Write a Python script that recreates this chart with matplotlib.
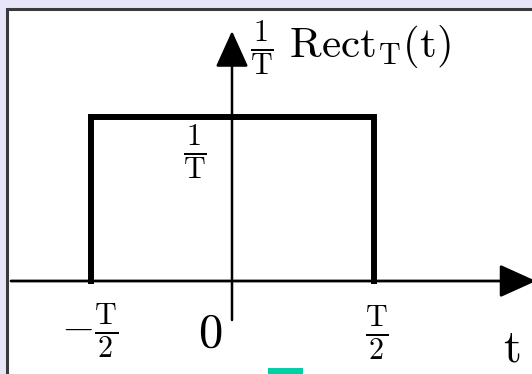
import matplotlib
matplotlib.use("Agg")
import matplotlib.pyplot as plt
from matplotlib.patches import Rectangle

plt.rcParams['mathtext.fontset'] = 'cm'
plt.rcParams['font.family'] = ['DejaVu Serif']

# ---- data ----
T = 2.0
height = 1.0 / T
rect_t = [-T / 2, -T / 2, T / 2, T / 2]
rect_v = [0.0, height, height, 0.0]
tick_pos = [-T / 2, 0.0, T / 2]
tick_labels = [r"$-\frac{\mathrm{T}}{2}$", r"$0$", r"$\frac{\mathrm{T}}{2}$"]
level_label = r"$\frac{1}{\mathrm{T}}$"
title_label = r"$\frac{1}{\mathrm{T}}\ \mathrm{Rect}_{\mathrm{T}}(\mathrm{t})$"
x_label = r"$\mathrm{t}$"

W, H = 532, 374
fig = plt.figure(figsize=(W / 100, H / 100), dpi=100)
fig.patch.set_facecolor('#e6e6f8')

# white panel with dark border
fig.patches.append(Rectangle((7 / W, -0.1), 1.2, (H - 9) / H + 0.1, transform=fig.transFigure,
                             facecolor='white', edgecolor='#3a3a3a', lw=2.2, zorder=-10))
fig.patches.append(Rectangle((268 / W, 0), 35 / W, 6 / H, transform=fig.transFigure,
                             facecolor='#00d0a8', edgecolor='none', zorder=-9))

ax = fig.add_axes([0, 0, 1, 1])
ax.set_facecolor('none')
ax.axis('off')

# pixel -> data mapping (origin at pixel 232, 281)
x0_px, y0_px = 232, 281
sx = 141.5 / (T / 2)
sy = 164.0 / height
ax.set_xlim((0 - x0_px) / sx, (W - x0_px) / sx)
ax.set_ylim((y0_px - H) / sy, (y0_px - 0) / sy)

def px(x, y):
    return (x - x0_px) / sx, (y0_px - y) / sy

# axes with arrows
ax.annotate('', xy=px(536, 281), xytext=px(11, 281), annotation_clip=False,
            arrowprops=dict(arrowstyle='-|>,head_length=0.42,head_width=0.19',
                            mutation_scale=54, lw=2.0, color='black',
                            shrinkA=0, shrinkB=0))
ax.annotate('', xy=px(232, 31), xytext=px(232, 320), annotation_clip=False,
            arrowprops=dict(arrowstyle='-|>,head_length=0.42,head_width=0.19',
                            mutation_scale=54, lw=1.8, color='black',
                            shrinkA=0, shrinkB=0))

# rectangle pulse
ax.plot(rect_t, rect_v, color='black', lw=4.3, solid_joinstyle='miter', zorder=3)

fs = 31
# tick labels
label_px = [(90, 331), (210, 333), (377, 333)]
label_fs = [fs, 35, fs]
for (lx, ly), lab, f in zip(label_px, tick_labels, label_fs):
    ax.text(*px(lx, ly), lab, ha='center', va='center', fontsize=f)

ax.text(*px(195, 153), level_label, ha='center', va='center', fontsize=fs)
ax.text(*px(250, 49), title_label, ha='left', va='center', fontsize=fs)
ax.text(*px(512, 361), x_label, ha='center', va='baseline', fontsize=33)

fig.savefig('out.png', dpi=100, facecolor=fig.get_facecolor())
